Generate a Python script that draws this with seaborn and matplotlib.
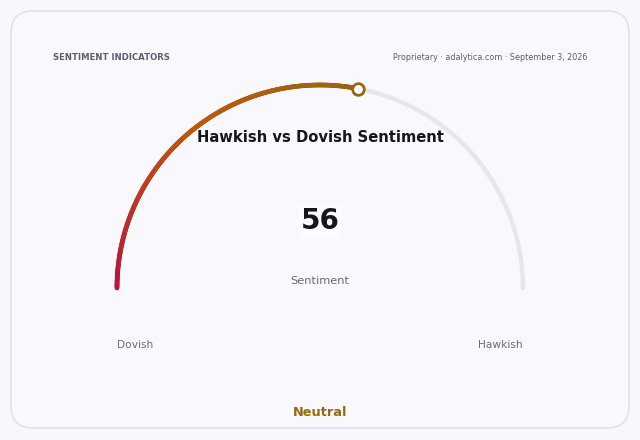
import numpy as np
import pandas as pd
import seaborn as sns
import matplotlib.pyplot as plt
from matplotlib.collections import LineCollection
from matplotlib.colors import LinearSegmentedColormap
from matplotlib.patches import FancyBboxPatch

# Gauge data
value = 56
scale_min, scale_max = 0, 100
title = "Hawkish vs Dovish Sentiment"
metric_label = "Sentiment"
left_label, right_label = "Dovish", "Hawkish"
status_label = "Neutral"
header_left = "SENTIMENT INDICATORS"
header_right = "Proprietary · adalytica.com · September 3, 2026"

sns.set_theme(style="white")
plt.rcParams["font.family"] = ["DejaVu Sans"]

bg = "#f8f8fc"
amber = "#9c650f"
cmap = LinearSegmentedColormap.from_list("gauge", ["#b8143c", "#bf560f", "#94690e"])

fig = plt.figure(figsize=(6.4, 4.4), dpi=100, facecolor=bg)
ax = fig.add_axes([0, 0, 1, 1])
ax.set_xlim(0, 640)
ax.set_ylim(440, 0)
ax.set_aspect("equal")
ax.axis("off")
ax.set_facecolor(bg)

# card
card = FancyBboxPatch((11, 11), 618, 417, boxstyle="round,pad=0,rounding_size=22",
                      facecolor="#f9f9fd", edgecolor="#dedee6", linewidth=1.0)
ax.add_patch(card)

# gauge geometry (pixel space)
cx, cy, r = 320, 288, 203
frac = (value - scale_min) / (scale_max - scale_min)

theta_bg = np.linspace(np.pi, 0, 300)
track = pd.DataFrame({"x": cx + r * np.cos(theta_bg), "y": cy - r * np.sin(theta_bg)})
sns.lineplot(data=track, x="x", y="y", sort=False, ax=ax, color="#e6e6eb",
             linewidth=3.2, solid_capstyle="round", legend=False)

theta = np.linspace(np.pi, np.pi * (1 - frac), 300)
xs = cx + r * np.cos(theta)
ys = cy - r * np.sin(theta)
pts = np.column_stack([xs, ys]).reshape(-1, 1, 2)
segs = np.concatenate([pts[:-1], pts[1:]], axis=1)
lc = LineCollection(segs, colors=cmap(np.linspace(0, 1, len(segs))),
                    linewidth=3.4, capstyle="round")
ax.add_collection(lc)

ax.scatter([xs[-1]], [ys[-1]], s=70, facecolor="white", edgecolor=amber,
           linewidth=2, zorder=5)

# texts
ax.text(53, 57, header_left, fontsize=6.1, fontweight="bold", color="#5c5c72",
        ha="left", va="center")
ax.text(587, 57, header_right, fontsize=5.8, color="#5c5c72", ha="right", va="center")
ax.text(cx, 137, title, fontsize=10.6, fontweight="bold", color="#16161e",
        ha="center", va="center")
ax.text(cx, 221, f"{value}", fontsize=20, fontweight="bold", color="#16161e",
        ha="center", va="center",
        bbox=dict(facecolor="white", edgecolor="none", pad=2, alpha=0.6))
ax.text(cx, 281, metric_label, fontsize=8.2, color="#6a6a78", ha="center", va="center")
ax.text(cx - r, 345, left_label, fontsize=7.7, color="#6a6a78", ha="left", va="center")
ax.text(cx + r, 345, right_label, fontsize=7.7, color="#6a6a78", ha="right", va="center")
ax.text(cx, 413, status_label, fontsize=9.3, fontweight="bold", color=amber,
        ha="center", va="center")

fig.savefig("out.png", dpi=100, facecolor=bg)
